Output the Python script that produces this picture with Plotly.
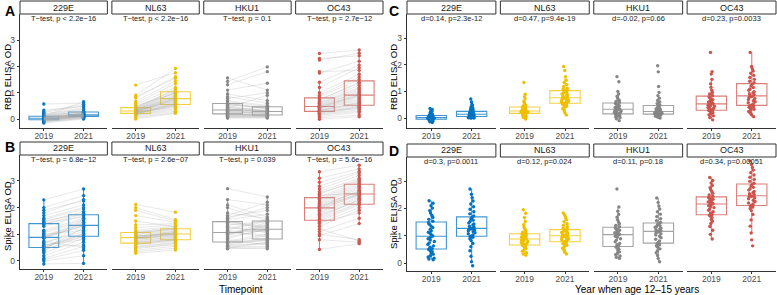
import plotly.graph_objects as go

W, H = 777, 295

viruses = ["229E", "NL63", "HKU1", "OC43"]
years = ["2019", "2021"]
palette = ["#0073C2", "#EFC000", "#868686", "#CD534C"]
y_ticks = [0, 1, 2, 3]

# ---------------- Panel A: RBD ELISA OD, paired (same child 2019 -> 2021)
rbd_229e_19 = [0.02, -0.05, 0.08, 0.57, 0.00, -0.12, 0.04, 0.11, -0.02, 0.34, 0.06, -0.08, 0.01, 0.15, -0.03, 0.05, 0.20, -0.15, 0.03, 0.09,
               -0.01, 0.07, 0.28, -0.06, 0.02, 0.12, -0.04, 0.00, 0.18, -0.10, 0.04, 0.10, -0.02, 0.06, 0.25, -0.07, 0.01, 0.14, -0.03, 0.03]
rbd_229e_21 = [0.14, 0.10, 0.22, 0.61, 0.09, 0.03, 0.18, 0.26, 0.12, 0.48, 0.20, 0.05, 0.15, 0.35, 0.08, 0.16, 0.42, 0.00, 0.13, 0.24,
               0.11, 0.19, 0.56, 0.07, 0.17, 0.30, 0.09, 0.14, 0.38, 0.02, 0.21, 0.66, 0.13, 0.15, 0.50, 0.06, 0.16, 0.28, 0.10, 0.23]
rbd_nl63_19 = [0.28, 0.15, 0.35, 1.29, 0.22, 0.05, 0.31, 0.45, 0.26, 0.91, 0.19, 0.38, 0.30, 0.55, 0.12, 0.27, 0.42, 0.85, 0.24, 0.33,
               0.00, 0.29, 0.60, 0.21, 0.36, 0.80, 0.18, 0.32, 0.47, 0.23, 0.08, 0.40, 0.25, 0.67, 0.34, 0.20, 0.29, 0.50, 0.14, 0.37]
rbd_nl63_21 = [0.75, 0.45, 0.90, 1.76, 0.58, 0.25, 0.80, 1.05, 0.62, 1.92, 0.50, 0.95, 0.72, 1.20, 0.35, 0.68, 1.00, 1.55, 0.56, 0.85,
               0.22, 0.77, 1.35, 0.52, 0.88, 1.61, 0.60, 0.70, 1.10, 0.48, 0.30, 1.15, 0.65, 1.45, 0.82, 0.55, 0.78, 0.98, 0.40, 1.02]
rbd_hku1_19 = [0.34, 0.12, 0.56, 1.56, 0.20, 0.05, 0.40, 0.70, 0.25, 1.43, 0.16, 0.45, 0.30, 0.85, 0.10, 0.36, 0.60, 1.30, 0.22, 0.48,
               0.04, 0.33, 0.95, 0.18, 0.52, 1.10, 0.14, 0.38, 0.65, 0.21, 0.08, 0.42, 0.27, 0.78, 0.31, 0.19, 0.35, 0.58, 0.11, 0.28]
rbd_hku1_21 = [0.28, 0.20, 0.40, 1.10, 0.15, 0.10, 0.33, 0.52, 0.22, 1.98, 0.12, 0.30, 0.25, 0.60, 0.08, 0.45, 0.38, 1.80, 0.18, 0.29,
               0.04, 0.26, 0.70, 0.14, 0.42, 1.36, 0.16, 0.27, 0.48, 0.11, 0.06, 0.90, 0.23, 1.00, 0.35, 0.13, 0.31, 0.44, 0.09, 0.21]
rbd_oc43_19 = [0.47, 0.25, 0.76, 2.49, 0.30, 0.05, 0.55, 1.00, 0.38, 2.30, 0.20, 0.62, 0.45, 1.20, 0.15, 0.50, 0.85, 1.75, 0.33, 0.58,
               -0.01, 0.42, 1.40, 0.28, 0.68, 2.24, 0.22, 0.44, 0.90, 0.35, 0.10, 0.52, 0.32, 1.80, 0.48, 0.27, 0.40, 0.72, 0.18, 0.60]
rbd_oc43_21 = [0.90, 0.45, 1.35, 2.62, 0.60, 0.15, 1.00, 1.70, 0.70, 2.40, 0.42, 1.20, 0.85, 1.95, 0.30, 0.95, 1.50, 2.20, 0.55, 1.10,
               0.09, 0.80, 2.05, 0.50, 1.28, 2.50, 0.48, 0.88, 1.60, 0.62, 0.25, 1.05, 0.65, 1.85, 0.92, 0.40, 0.75, 1.40, 0.35, 1.15]

# ---------------- Panel B: Spike ELISA OD, paired
spk_229e_19 = [0.89, 0.30, 1.38, 2.29, 0.51, -0.11, 1.05, 1.70, 0.65, 2.00, 0.20, 1.42, 0.90, 1.55, 0.05, 0.95, 1.45, 0.40, 0.70, 1.90,
               0.10, 1.15, 0.55, 1.30, 0.85, 0.35, 0.60, 1.60, 0.45, 1.00, 0.52, 0.92, 1.50, 0.75, 0.58, 1.10, 0.50, 1.80, 0.00, 0.88]
spk_229e_21 = [1.39, 0.85, 1.76, 2.70, 1.00, -0.09, 1.50, 2.10, 1.20, 2.45, 0.70, 1.65, 1.30, 1.95, 0.40, 1.45, 1.85, 0.95, 1.10, 2.25,
               0.55, 1.60, 1.05, 1.70, 1.35, 1.60, 0.80, 2.00, 1.25, 1.15, 0.60, 1.42, 1.78, 0.50, 0.90, 1.55, 1.02, 2.30, 0.20, 1.32]
spk_nl63_19 = [0.88, 0.60, 1.04, 2.12, 0.69, 0.29, 0.92, 1.25, 0.75, 2.00, 0.50, 0.98, 0.85, 1.15, 0.40, 0.80, 1.10, 1.90, 0.70, 0.95,
               0.35, 0.87, 1.35, 0.65, 1.00, 1.70, 0.55, 0.83, 1.05, 0.72, 0.45, 0.90, 0.78, 1.50, 0.89, 0.62, 0.86, 1.08, 0.52, 0.93]
spk_nl63_21 = [1.00, 0.75, 1.19, 1.83, 0.79, 0.41, 1.05, 1.35, 0.90, 1.55, 0.60, 1.10, 0.95, 1.30, 0.55, 1.02, 1.25, 1.50, 0.82, 0.98,
               0.48, 1.08, 1.40, 0.78, 1.15, 1.45, 0.70, 0.92, 1.22, 0.85, 0.65, 1.12, 0.88, 1.28, 1.03, 0.80, 0.97, 1.18, 0.68, 1.06]
spk_hku1_19 = [1.05, 0.70, 1.45, 2.71, 0.60, 0.46, 1.20, 1.80, 0.85, 2.30, 0.55, 1.30, 0.95, 1.65, 0.50, 1.10, 1.55, 2.00, 0.75, 1.40,
               0.48, 0.98, 1.70, 0.65, 1.25, 2.10, 0.80, 1.00, 1.50, 0.72, 0.52, 1.15, 0.90, 1.60, 1.08, 0.68, 1.02, 1.35, 0.58, 1.12]
spk_hku1_21 = [1.15, 0.95, 1.30, 2.40, 0.80, 0.50, 1.55, 1.60, 1.20, 2.10, 0.65, 1.05, 1.40, 1.90, 0.46, 0.90, 1.75, 1.50, 1.00, 1.25,
               0.70, 1.35, 2.20, 0.85, 1.10, 1.65, 0.60, 1.45, 1.20, 0.78, 0.55, 1.50, 1.18, 2.00, 0.98, 0.75, 1.30, 1.48, 0.68, 1.12]
spk_oc43_19 = [2.05, 1.50, 2.40, 3.34, 1.61, 0.43, 2.15, 2.80, 1.80, 3.10, 1.20, 2.25, 1.95, 2.60, 1.00, 2.08, 2.50, 1.40, 1.70, 2.95,
               0.80, 2.20, 1.65, 2.35, 1.90, 1.30, 2.70, 1.85, 2.45, 1.55, 1.10, 2.00, 2.30, 1.75, 2.12, 1.45, 2.02, 2.55, 0.95, 1.98]
spk_oc43_21 = [2.53, 2.10, 2.96, 3.59, 2.18, 0.65, 2.70, 3.30, 2.35, 3.45, 0.75, 2.80, 2.45, 3.10, 0.80, 2.60, 3.05, 2.00, 2.25, 3.35,
               0.70, 2.75, 2.30, 2.90, 2.50, 1.90, 3.20, 2.40, 2.55, 2.15, 1.60, 2.65, 2.85, 2.28, 2.58, 1.80, 2.48, 3.00, 1.40, 2.52]

# ---------------- Panel C: RBD ELISA OD by year when age 12-15 years
c_229e_19 = [-0.17, -0.14, -0.12, -0.10, -0.09, -0.08, -0.07, -0.06, -0.05, -0.05, -0.04, -0.03, -0.02, -0.02, -0.01, 0.00, 0.00, 0.01, 0.01, 0.01,
             0.02, 0.02, 0.03, 0.04, 0.04, 0.05, 0.06, 0.07, 0.08, 0.09, 0.10, 0.12, 0.14, 0.16, 0.19, 0.22, 0.25, 0.28, 0.32, 0.36]
c_229e_21 = [0.00, 0.00, 0.01, 0.01, 0.02, 0.02, 0.03, 0.03, 0.04, 0.05, 0.06, 0.07, 0.08, 0.09, 0.10, 0.11, 0.12, 0.13, 0.13, 0.14,
             0.14, 0.15, 0.16, 0.17, 0.18, 0.19, 0.20, 0.21, 0.22, 0.24, 0.26, 0.29, 0.32, 0.35, 0.38, 0.42, 0.47, 0.52, 0.60, 0.71]
c_nl63_19 = [-0.04, 0.02, 0.05, 0.08, 0.10, 0.12, 0.14, 0.15, 0.16, 0.17, 0.18, 0.19, 0.20, 0.21, 0.22, 0.23, 0.24, 0.25, 0.25, 0.26,
             0.26, 0.27, 0.28, 0.30, 0.31, 0.32, 0.34, 0.36, 0.38, 0.40, 0.42, 0.45, 0.48, 0.52, 0.57, 0.63, 0.72, 0.80, 0.89, 1.33]
c_nl63_21 = [0.11, 0.20, 0.28, 0.35, 0.40, 0.44, 0.48, 0.51, 0.53, 0.55, 0.56, 0.58, 0.60, 0.63, 0.65, 0.67, 0.70, 0.72, 0.74, 0.75,
             0.77, 0.79, 0.81, 0.84, 0.87, 0.90, 0.93, 0.96, 0.99, 1.01, 1.04, 1.08, 1.12, 1.18, 1.25, 1.33, 1.42, 1.55, 1.78, 1.93]
c_hku1_19 = [-0.10, -0.03, 0.02, 0.05, 0.08, 0.10, 0.12, 0.13, 0.14, 0.15, 0.16, 0.18, 0.20, 0.22, 0.24, 0.26, 0.28, 0.30, 0.31, 0.32,
             0.34, 0.36, 0.38, 0.40, 0.42, 0.44, 0.46, 0.49, 0.52, 0.55, 0.58, 0.62, 0.66, 0.70, 0.76, 0.82, 0.90, 1.00, 1.36, 1.55]
c_hku1_21 = [0.00, 0.03, 0.05, 0.07, 0.09, 0.10, 0.11, 0.12, 0.13, 0.14, 0.15, 0.16, 0.17, 0.18, 0.19, 0.20, 0.21, 0.22, 0.23, 0.24,
             0.25, 0.26, 0.28, 0.30, 0.32, 0.34, 0.36, 0.39, 0.42, 0.45, 0.49, 0.54, 0.60, 0.66, 0.74, 0.84, 0.96, 1.18, 1.73, 1.96]
c_oc43_19 = [-0.07, 0.02, 0.08, 0.12, 0.16, 0.19, 0.22, 0.24, 0.26, 0.28, 0.30, 0.33, 0.36, 0.39, 0.42, 0.44, 0.46, 0.48, 0.50, 0.52,
             0.54, 0.56, 0.58, 0.60, 0.63, 0.66, 0.69, 0.72, 0.76, 0.80, 0.84, 0.90, 0.96, 1.04, 1.15, 1.28, 1.45, 1.65, 1.74, 2.46]
c_oc43_21 = [0.05, 0.12, 0.18, 0.24, 0.29, 0.33, 0.37, 0.40, 0.43, 0.46, 0.49, 0.53, 0.57, 0.61, 0.65, 0.69, 0.73, 0.77, 0.80, 0.82,
             0.84, 0.87, 0.91, 0.95, 0.99, 1.04, 1.09, 1.14, 1.20, 1.26, 1.32, 1.38, 1.45, 1.52, 1.60, 1.68, 1.76, 1.85, 1.93, 2.46]

# ---------------- Panel D: Spike ELISA OD by year when age 12-15 years
d_229e_19 = [0.12, 0.15, 0.18, 0.22, 0.27, 0.32, 0.37, 0.42, 0.46, 0.50, 0.53, 0.58, 0.63, 0.68, 0.74, 0.79, 0.84, 0.89, 0.93, 0.97,
             0.99, 1.03, 1.08, 1.13, 1.18, 1.24, 1.30, 1.36, 1.42, 1.48, 1.53, 1.60, 1.67, 1.75, 1.83, 1.92, 2.01, 2.10, 2.19, 2.28]
d_229e_21 = [-0.10, 0.05, 0.25, 0.45, 0.60, 0.72, 0.82, 0.89, 0.94, 0.97, 0.99, 1.03, 1.07, 1.11, 1.15, 1.18, 1.21, 1.23, 1.25, 1.26,
             1.28, 1.31, 1.35, 1.39, 1.43, 1.47, 1.52, 1.57, 1.62, 1.66, 1.72, 1.80, 1.88, 1.97, 2.06, 2.16, 2.27, 2.39, 2.52, 2.71]
d_nl63_19 = [0.29, 0.33, 0.38, 0.43, 0.48, 0.53, 0.57, 0.60, 0.63, 0.65, 0.67, 0.70, 0.72, 0.75, 0.77, 0.79, 0.82, 0.84, 0.86, 0.87,
             0.89, 0.91, 0.93, 0.95, 0.97, 0.99, 1.01, 1.03, 1.05, 1.06, 1.09, 1.13, 1.18, 1.24, 1.31, 1.40, 1.52, 1.67, 1.82, 1.95]
d_nl63_21 = [0.33, 0.40, 0.47, 0.54, 0.60, 0.65, 0.69, 0.72, 0.75, 0.77, 0.79, 0.82, 0.85, 0.87, 0.90, 0.92, 0.94, 0.96, 0.98, 0.99,
             1.01, 1.03, 1.05, 1.07, 1.10, 1.12, 1.14, 1.17, 1.19, 1.21, 1.24, 1.28, 1.33, 1.38, 1.44, 1.51, 1.59, 1.67, 1.75, 1.83]
d_hku1_19 = [0.17, 0.21, 0.26, 0.31, 0.36, 0.41, 0.46, 0.51, 0.55, 0.59, 0.62, 0.67, 0.72, 0.78, 0.84, 0.89, 0.94, 0.98, 1.01, 1.03,
             1.05, 1.07, 1.09, 1.11, 1.14, 1.17, 1.20, 1.23, 1.26, 1.29, 1.33, 1.38, 1.44, 1.51, 1.59, 1.68, 1.78, 1.90, 2.05, 2.71]
d_hku1_21 = [0.05, 0.17, 0.28, 0.38, 0.45, 0.52, 0.58, 0.63, 0.67, 0.71, 0.75, 0.81, 0.87, 0.93, 0.98, 1.03, 1.07, 1.11, 1.14, 1.15,
             1.17, 1.19, 1.22, 1.25, 1.28, 1.31, 1.34, 1.37, 1.41, 1.44, 1.49, 1.55, 1.62, 1.70, 1.79, 1.88, 1.98, 2.09, 2.22, 2.38]
d_oc43_19 = [0.88, 1.05, 1.20, 1.34, 1.45, 1.53, 1.60, 1.66, 1.71, 1.75, 1.78, 1.83, 1.88, 1.93, 1.98, 2.03, 2.07, 2.10, 2.13, 2.15,
             2.17, 2.19, 2.21, 2.24, 2.27, 2.30, 2.33, 2.35, 2.37, 2.40, 2.44, 2.49, 2.55, 2.62, 2.69, 2.76, 2.84, 2.93, 3.02, 3.13]
d_oc43_21 = [0.63, 0.85, 1.10, 1.35, 1.58, 1.78, 1.92, 2.00, 2.05, 2.09, 2.12, 2.16, 2.20, 2.25, 2.30, 2.35, 2.39, 2.42, 2.44, 2.45,
             2.47, 2.50, 2.54, 2.58, 2.62, 2.67, 2.72, 2.77, 2.82, 2.87, 2.92, 2.99, 3.06, 3.14, 3.22, 3.31, 3.40, 3.50, 3.61, 3.74]

tests_A = ["T\u2212test, p < 2.2e\u221216", "T\u2212test, p < 2.2e\u221216", "T\u2212test, p = 0.1", "T\u2212test, p = 2.7e\u221212"]
tests_B = ["T\u2212test, p = 6.8e\u221212", "T\u2212test, p = 2.6e\u221207", "T\u2212test, p = 0.039", "T\u2212test, p = 5.6e\u221216"]
stats_C = ["d=0.14, p=2.3e-12", "d=0.47, p=9.4e-19", "d=-0.02, p=0.66", "d=0.23, p=0.0033"]
stats_D = ["d=0.3, p=0.0011", "d=0.12, p=0.024", "d=0.11, p=0.18", "d=0.34, p=0.00051"]

data = {
    "A": [(rbd_229e_19, rbd_229e_21), (rbd_nl63_19, rbd_nl63_21), (rbd_hku1_19, rbd_hku1_21), (rbd_oc43_19, rbd_oc43_21)],
    "B": [(spk_229e_19, spk_229e_21), (spk_nl63_19, spk_nl63_21), (spk_hku1_19, spk_hku1_21), (spk_oc43_19, spk_oc43_21)],
    "C": [(c_229e_19, c_229e_21), (c_nl63_19, c_nl63_21), (c_hku1_19, c_hku1_21), (c_oc43_19, c_oc43_21)],
    "D": [(d_229e_19, d_229e_21), (d_nl63_19, d_nl63_21), (d_hku1_19, d_hku1_21), (d_oc43_19, d_oc43_21)],
}
labels = {"A": tests_A, "B": tests_B, "C": stats_C, "D": stats_D}

# pixel geometry of each panel: x0, x1, plot top, plot bottom, y range, paired?, ytitle, ytitle centre
geom = {
    "A": dict(x0=20, x1=383, top=14, bot=128, yr=[-0.34, 3.99], paired=True, yt="RBD ELISA OD", ytc=77, lab=(10, 11), ytx=7),
    "B": dict(x0=20, x1=383, top=155, bot=269, yr=[-0.30, 3.97], paired=True, yt="Spike ELISA OD", ytc=216, lab=(10, 147), ytx=7),
    "C": dict(x0=407, x1=776, top=14, bot=128, yr=[-0.375, 3.90], paired=False, yt="RBD ELISA OD", ytc=77, lab=(394, 11), ytx=393),
    "D": dict(x0=407, x1=776, top=157, bot=271, yr=[-0.29, 3.88], paired=False, yt="Spike ELISA OD", ytc=214, lab=(394, 151), ytx=393),
}

def rgba(hexc, a):
    h = hexc.lstrip("#")
    return "rgba(%d,%d,%d,%.2f)" % (int(h[0:2], 16), int(h[2:4], 16), int(h[4:6], 16), a)

fig = go.Figure()
layout = {}
shapes = []
annotations = []
FONT = "Liberation Sans, Arial, sans-serif"
GAP = 4.5
STRIP = 13
TICKFONT = dict(size=8.5, color="#4d4d4d", family=FONT)

k = 0
for pname in ["A", "B", "C", "D"]:
    g = geom[pname]
    fw = (g["x1"] - g["x0"] - 3 * GAP) / 4
    for j, virus in enumerate(viruses):
        k += 1
        xs = "x" if k == 1 else "x%d" % k
        ys = "y" if k == 1 else "y%d" % k
        xa = "xaxis" if k == 1 else "xaxis%d" % k
        ya = "yaxis" if k == 1 else "yaxis%d" % k
        fx0 = g["x0"] + j * (fw + GAP)
        fx1 = fx0 + fw
        layout[xa] = dict(domain=[fx0 / W, fx1 / W], anchor=ys, type="category",
                          categoryorder="array", categoryarray=years, range=[-0.6, 1.6],
                          showline=True, linecolor="#333333", linewidth=0.8, ticks="outside",
                          ticklen=2, tickwidth=0.8, tickcolor="#333333", tickfont=TICKFONT,
                          ticklabelstandoff=-2,
                          showgrid=False, zeroline=False, fixedrange=True)
        layout[ya] = dict(domain=[1 - g["bot"] / H, 1 - g["top"] / H], anchor=xs, range=g["yr"],
                          tickvals=y_ticks, showticklabels=(j == 0), showline=(j == 0),
                          linecolor="#333333", linewidth=0.8, ticks="outside" if j == 0 else "",
                          ticklen=2.5, tickwidth=0.8, tickcolor="#333333", tickfont=TICKFONT,
                          showgrid=False, zeroline=False, fixedrange=True)
        v19, v21 = data[pname][j]
        col = palette[j]
        if g["paired"]:
            lx, ly = [], []
            for a, b in zip(v19, v21):
                lx += [years[0], years[1], None]
                ly += [a, b, None]
            fig.add_trace(go.Scatter(x=lx, y=ly, mode="lines", xaxis=xs, yaxis=ys,
                                     line=dict(color="rgba(170,170,170,0.45)", width=0.6),
                                     hoverinfo="skip", showlegend=False, connectgaps=False))
        fig.add_trace(go.Box(x=[years[0]] * len(v19) + [years[1]] * len(v21), y=list(v19) + list(v21),
                             xaxis=xs, yaxis=ys, width=0.75, boxpoints="all",
                             jitter=0 if g["paired"] else 0.25, pointpos=0,
                             marker=dict(color=col, size=3.4, line=dict(width=0)),
                             line=dict(color=rgba(col, 0.75), width=1.1),
                             fillcolor="rgba(0,0,0,0)", whiskerwidth=0, showlegend=False))
        # strip
        shapes.append(dict(type="rect", xref="paper", yref="paper",
                           x0=fx0 / W, x1=fx1 / W, y0=1 - g["top"] / H, y1=1 - (g["top"] - STRIP) / H,
                           line=dict(color="#333333", width=1), fillcolor="white", layer="above"))
        annotations.append(dict(x=(fx0 + fx1) / 2 / W, y=1 - (g["top"] - STRIP / 2) / H, xref="paper", yref="paper",
                                text=virus, showarrow=False, font=dict(size=9, color="#1a1a1a", family=FONT),
                                xanchor="center", yanchor="middle"))
        annotations.append(dict(x=(fx0 + fx1) / 2 / W, y=1 - (g["top"] + 4.5) / H, xref="paper", yref="paper",
                                text=labels[pname][j], showarrow=False, font=dict(size=7.5, color="#222222", family=FONT),
                                xanchor="center", yanchor="middle"))
    # panel letter
    annotations.append(dict(x=g["lab"][0] / W, y=1 - g["lab"][1] / H, xref="paper", yref="paper", text="<b>%s</b>" % pname,
                            showarrow=False, font=dict(size=14, color="black", family=FONT), xanchor="center", yanchor="middle"))
    annotations.append(dict(x=g["ytx"] / W, y=1 - g["ytc"] / H, xref="paper", yref="paper", text=g["yt"], textangle=-90,
                            showarrow=False, font=dict(size=9.5, color="black", family=FONT), xanchor="center", yanchor="middle"))

annotations.append(dict(x=241 / W, y=1 - 289.5 / H, xref="paper", yref="paper", text="Timepoint", showarrow=False,
                        font=dict(size=10, color="black", family=FONT), xanchor="center", yanchor="middle"))
annotations.append(dict(x=637 / W, y=1 - 289.5 / H, xref="paper", yref="paper", text="Year when age 12\u201315 years",
                        showarrow=False, font=dict(size=10, color="black", family=FONT), xanchor="center", yanchor="middle"))

fig.update_layout(width=W, height=H, margin=dict(l=0, r=0, t=0, b=0), plot_bgcolor="white", paper_bgcolor="white",
                  shapes=shapes, annotations=annotations, showlegend=False, boxmode="overlay",
                  font=dict(family=FONT), **layout)
fig.write_html("out.html", config={"displayModeBar": False},
               post_script="document.body.style.margin='0';document.body.style.overflow='hidden';")
